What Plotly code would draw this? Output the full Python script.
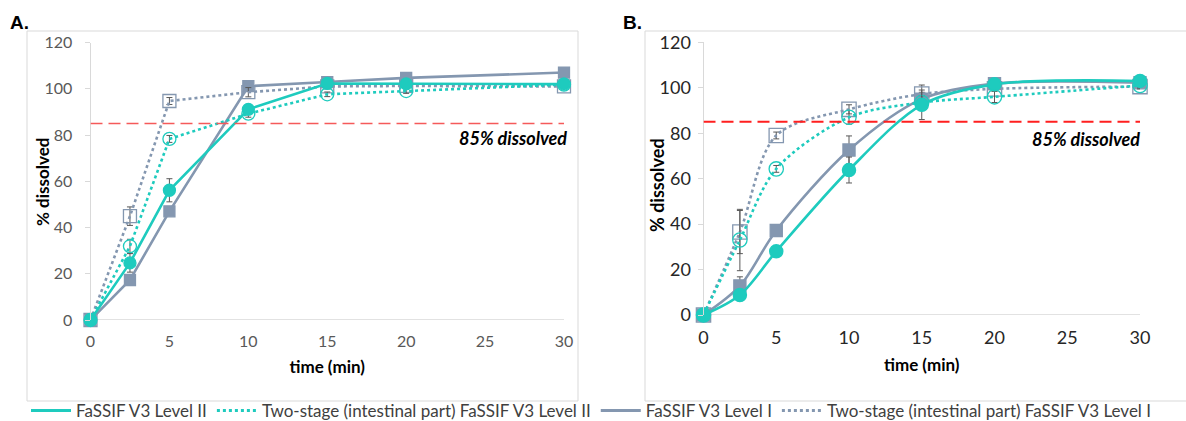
import plotly.graph_objects as go

# Sampling times (min)
time_min = [0, 2.5, 5, 10, 15, 20, 30]

# Panel A: % dissolved
a_l2 = [0, 24.7, 56.1, 91.1, 102.3, 102.1, 102.0]
a_l2_err = [0, 4.0, 5.0, 1.2, 1.0, 1.0, 1.0]
a_ts_l2 = [0, 31.9, 78.3, 89.2, 97.6, 99.0, 101.8]
a_ts_l2_err = [0, 3.0, 1.5, 1.5, 1.0, 1.0, 1.0]
a_l1 = [0, 17.3, 47.0, 101.1, 102.9, 104.7, 107.0]
a_l1_err = [0, 1.0, 1.0, 1.0, 1.0, 1.0, 1.0]
a_ts_l1 = [0, 44.9, 94.7, 98.5, 101.0, 101.2, 101.0]
a_ts_l1_err = [0, 4.0, 1.5, 2.0, 1.0, 1.0, 1.0]

# Panel B: % dissolved
b_l2 = [0, 8.8, 28.0, 63.8, 92.5, 101.5, 103.0]
b_l2_err = [0, 1.0, 1.0, 5.7, 6.5, 1.0, 1.0]
b_ts_l2 = [0, 33.0, 64.3, 87.0, 93.5, 96.0, 101.0]
b_ts_l2_err = [0, 13.5, 1.5, 3.0, 3.0, 2.5, 1.0]
b_l1 = [0, 12.8, 37.2, 72.6, 95.0, 101.8, 102.2]
b_l1_err = [0, 4.0, 1.5, 6.2, 3.0, 1.0, 1.0]
b_ts_l1 = [0, 36.5, 79.0, 90.5, 97.2, 99.5, 100.5]
b_ts_l1_err = [0, 9.5, 1.5, 2.0, 4.0, 1.0, 1.0]

threshold = 85
legend_names = [
    "FaSSIF V3 Level II",
    "Two-stage (intestinal part) FaSSIF V3 Level II",
    "FaSSIF V3 Level I",
    "Two-stage (intestinal part) FaSSIF V3 Level I",
]

TEAL = "#1ECBBE"
SLATE = "#8497B0"
SLATE_LIGHT = "#A9B6CA"
ERR = "#595959"
FONT = "Lato"

W, H = 1186, 421


def px_x(p):
    return p / W


def px_y(p):
    return 1 - p / H


fig = go.Figure()


def add_series(x, y, err, color, dash, symbol, msize, mline, xa, ya, shape):
    fig.add_trace(go.Scatter(
        x=x, y=y, mode="lines+markers", xaxis=xa, yaxis=ya,
        line=dict(color=color, width=2.6, dash=dash, shape=shape, smoothing=0.9),
        marker=dict(symbol=symbol, size=msize, color=color,
                    line=dict(color=mline, width=1.3)),
        error_y=dict(type="data", array=err, visible=True, color=ERR,
                     thickness=1, width=3),
        cliponaxis=False, showlegend=False,
    ))


panels = [
    ("x", "y", "linear", 1.0, (a_l2, a_l2_err), (a_ts_l2, a_ts_l2_err),
     (a_l1, a_l1_err), (a_ts_l1, a_ts_l1_err)),
    ("x2", "y2", "spline", 1.1, (b_l2, b_l2_err), (b_ts_l2, b_ts_l2_err),
     (b_l1, b_l1_err), (b_ts_l1, b_ts_l1_err)),
]

for xa, ya, shape, k, l2, tsl2, l1, tsl1 in panels:
    add_series(time_min, l1[0], l1[1], SLATE, "solid", "square", 11 * k, SLATE, xa, ya, shape)
    add_series(time_min, tsl1[0], tsl1[1], SLATE, "dot", "square-open", 13 * k, SLATE_LIGHT, xa, ya, shape)
    add_series(time_min, tsl2[0], tsl2[1], TEAL, "dot", "circle-open", 13 * k, TEAL, xa, ya, shape)
    add_series(time_min, l2[0], l2[1], TEAL, "solid", "circle", 12 * k, TEAL, xa, ya, shape)

# Legend entries (line samples only)
for name, color, dash in zip(legend_names, [TEAL, TEAL, SLATE, SLATE],
                             ["solid", "dot", "solid", "dot"]):
    fig.add_trace(go.Scatter(x=[None], y=[None], mode="lines", name=name,
                             line=dict(color=color, width=3, dash=dash)))

# 85% reference lines
fig.add_shape(type="line", xref="x", yref="y", x0=0, x1=30, y0=threshold, y1=threshold,
              line=dict(color="#F55A5A", width=1.5, dash="12px,6px"))
fig.add_shape(type="line", xref="x2", yref="y2", x0=0, x1=30, y0=threshold, y1=threshold,
              line=dict(color="#FF1F1F", width=2, dash="12px,6px"))

# Panel frames
fig.add_shape(type="rect", xref="paper", yref="paper",
              x0=px_x(27), x1=px_x(578), y0=px_y(401), y1=px_y(31),
              line=dict(color="#D9D9D9", width=1))
fig.add_shape(type="rect", xref="paper", yref="paper",
              x0=px_x(645), x1=px_x(1200), y0=px_y(401), y1=px_y(31),
              line=dict(color="#D9D9D9", width=1))

label_font = dict(family=FONT, size=18, color="#000000")
fig.add_annotation(xref="x", yref="y", x=30, y=threshold - 6.5, text="<b><i>85% dissolved</i></b>",
                   showarrow=False, xanchor="right", yanchor="middle", xshift=5, font=label_font)
fig.add_annotation(xref="x2", yref="y2", x=30, y=threshold - 7.5, text="<b><i>85% dissolved</i></b>",
                   showarrow=False, xanchor="right", yanchor="middle", xshift=2, font=label_font)

panel_font = dict(family="Liberation Sans", size=19, color="#000000")
fig.add_annotation(xref="paper", yref="paper", x=px_x(8), y=px_y(23), text="<b>A.</b>",
                   showarrow=False, xanchor="left", yanchor="middle", font=panel_font)
fig.add_annotation(xref="paper", yref="paper", x=px_x(621), y=px_y(23), text="<b>B.</b>",
                   showarrow=False, xanchor="left", yanchor="middle", font=panel_font)

# y-axis titles
fig.add_annotation(xref="paper", yref="paper", x=px_x(42), y=px_y(182), text="<b>% dissolved</b>",
                   textangle=-90, showarrow=False, xanchor="center", yanchor="middle",
                   font=dict(family=FONT, size=17, color="#000000"))
fig.add_annotation(xref="paper", yref="paper", x=px_x(657), y=px_y(185), text="<b>% dissolved</b>",
                   textangle=-90, showarrow=False, xanchor="center", yanchor="middle",
                   font=dict(family=FONT, size=18, color="#000000"))


def xaxis(domain, tick_color, tick_size):
    return dict(domain=domain, range=[0, 30], tickvals=[0, 5, 10, 15, 20, 25, 30],
                showgrid=False, zeroline=False, showline=False, ticks="",
                ticklabelstandoff=10, automargin=False,
                tickfont=dict(family=FONT, size=tick_size, color=tick_color),
                title=dict(text="<b>time (min)</b>", standoff=12,
                           font=dict(family=FONT, size=17, color="#000000")))


def yaxis(domain, anchor, tick_color, tick_size, standoff):
    return dict(domain=domain, anchor=anchor, range=[0, 120],
                tickvals=[0, 20, 40, 60, 80, 100, 120],
                showgrid=False, zeroline=False, showline=True, linecolor="#D9D9D9",
                linewidth=1, ticks="outside", ticklen=5, tickcolor="#D9D9D9",
                ticklabelstandoff=standoff, automargin=False,
                tickfont=dict(family=FONT, size=tick_size, color=tick_color))


fig.update_layout(
    width=W, height=H,
    margin=dict(l=0, r=0, t=0, b=0, autoexpand=False),
    paper_bgcolor="white", plot_bgcolor="white",
    xaxis=xaxis([px_x(90.5), px_x(564)], "#595959", 16),
    yaxis=yaxis([px_y(320), px_y(42.5)], "x", "#595959", 16, 9),
    xaxis2=dict(xaxis([px_x(703.5), px_x(1140)], "#262626", 18), anchor="y2"),
    yaxis2=yaxis([px_y(315), px_y(42.3)], "x2", "#262626", 18, 3),
    legend=dict(orientation="h", x=px_x(26), xanchor="left",
                y=px_y(411), yanchor="middle",
                font=dict(family=FONT, size=17, color="#404040"),
                itemwidth=40, bgcolor="rgba(0,0,0,0)"),
    showlegend=True,
)

# x-axis baselines at 0 %
fig.add_shape(type="line", xref="x", yref="y", x0=0, x1=30, y0=0, y1=0,
              line=dict(color="#D9D9D9", width=1.5), layer="below")
fig.add_shape(type="line", xref="x2", yref="y2", x0=0, x1=30, y0=0, y1=0,
              line=dict(color="#D9D9D9", width=1.5), layer="below")

fig.write_html("out.html")
